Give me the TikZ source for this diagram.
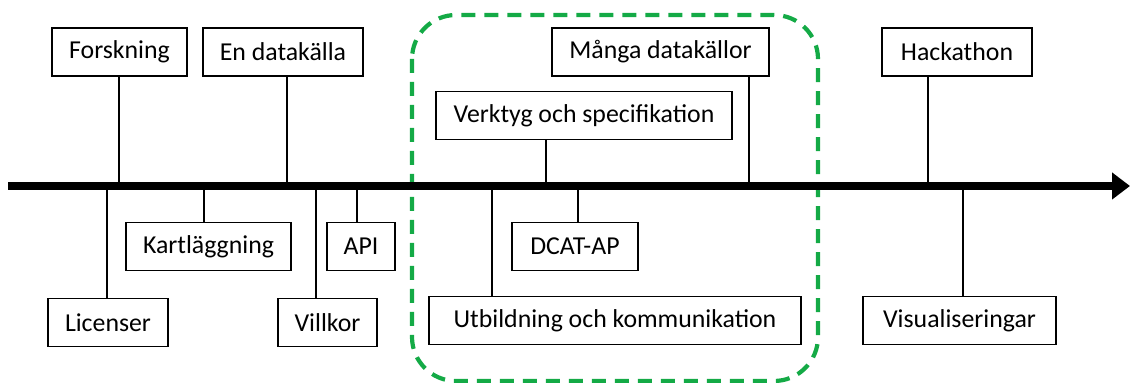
\documentclass[tikz,border=0pt]{standalone}
\usepackage{fontspec}
\setmainfont{Carlito}
\usetikzlibrary{arrows.meta}
\definecolor{ramgron}{RGB}{20,170,70}
\tikzset{
  ruta/.style={draw, line width=0.75pt, minimum height=24pt, inner sep=2pt,
    font=\fontsize{12.9}{15}\selectfont},
  pinne/.style={line width=0.7pt},
}
\begin{document}
\begin{tikzpicture}[x=0.5pt,y=-0.5pt]
\useasboundingbox (0,0) rectangle (1130,383);
% gruppen i mitten
\draw[ramgron, line width=2.1pt, dash pattern=on 7pt off 4.5pt, rounded corners=22pt]
  (412,15) rectangle (818,381);
% tidslinjen
\coordinate (start) at (8,186);
\coordinate (slut) at (1130,186);
\draw[line width=4pt, -{Triangle[length=9pt,width=13pt]}] (start) -- (slut);
% ovanfor
\node[ruta, minimum width=67.5pt] (fors) at (119.5,52) {Forskning};
\node[ruta, minimum width=80pt] (enda) at (283,52) {En datakälla};
\node[ruta, minimum width=108.5pt] (mang) at (660.5,52) {Många datakällor};
\node[ruta, minimum width=148pt] (verk) at (584,115.5) {Verktyg och specifikation};
\node[ruta, minimum width=75pt] (hack) at (957,52) {Hackathon};
% nedanfor
\node[ruta, minimum width=82.5pt] (kart) at (208.5,246.5) {Kartläggning};
\node[ruta, minimum width=34pt] (api) at (361,246.5) {API};
\node[ruta, minimum width=63pt] (dcat) at (575,246.5) {DCAT-AP};
\node[ruta, minimum width=60pt] (lic) at (108,322.5) {Licenser};
\node[ruta, minimum width=49.5pt] (vill) at (327.5,322.5) {Villkor};
\node[ruta, minimum width=186pt] (utb) at (615,320.5) {Utbildning och kommunikation};
\node[ruta, minimum width=96.5pt] (vis) at (959.5,320.5) {Visualiseringar};
% punkter pa linjen
\coordinate (pFors) at (119,186);
\coordinate (pEnda) at (287,186);
\coordinate (pMang) at (749,186);
\coordinate (pVerk) at (546,186);
\coordinate (pHack) at (928,186);
\coordinate (pLic) at (107,186);
\coordinate (pKart) at (204,186);
\coordinate (pVill) at (316,186);
\coordinate (pApi) at (357,186);
\coordinate (pUtb) at (492,186);
\coordinate (pDcat) at (578,186);
\coordinate (pVis) at (963,186);
\draw[pinne] (fors.south -| pFors) -- (pFors);
\draw[pinne] (enda.south -| pEnda) -- (pEnda);
\draw[pinne] (mang.south -| pMang) -- (pMang);
\draw[pinne] (verk.south -| pVerk) -- (pVerk);
\draw[pinne] (hack.south -| pHack) -- (pHack);
\draw[pinne] (lic.north -| pLic) -- (pLic);
\draw[pinne] (kart.north -| pKart) -- (pKart);
\draw[pinne] (vill.north -| pVill) -- (pVill);
\draw[pinne] (api.north -| pApi) -- (pApi);
\draw[pinne] (utb.north -| pUtb) -- (pUtb);
\draw[pinne] (dcat.north -| pDcat) -- (pDcat);
\draw[pinne] (vis.north -| pVis) -- (pVis);
\end{tikzpicture}
\end{document}
